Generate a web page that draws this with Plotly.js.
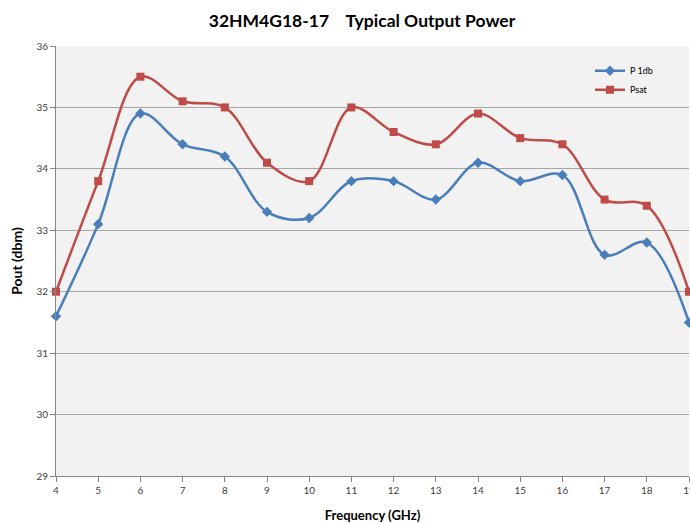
<!DOCTYPE html>
<html>
<head>
<meta charset="utf-8">
<script src="https://cdn.plot.ly/plotly-3.0.1.min.js"></script>
<style>
html,body{margin:0;padding:0;overflow:hidden;background:#fff;}
#chart{width:720px;height:523px;}
</style>
</head>
<body>
<div id="chart"></div>
<script>
var freq = [4,5,6,7,8,9,10,11,12,13,14,15,16,17,18,19];
var p1db = [31.6,33.1,34.9,34.4,34.2,33.3,33.2,33.8,33.8,33.5,34.1,33.8,33.9,32.6,32.8,31.5];
var psat = [32.0,33.8,35.5,35.1,35.0,34.1,33.8,35.0,34.6,34.4,34.9,34.5,34.4,33.5,33.4,32.0];
var xTicks = [4,5,6,7,8,9,10,11,12,13,14,15,16,17,18,19];
var yTicks = [29,30,31,32,33,34,35,36];

var font = "Lato, 'Open Sans', sans-serif";
var traces = [
  {x: freq, y: p1db, name: 'P 1db', type: 'scatter', mode: 'lines+markers',
   line: {color: '#4a7ebb', width: 2.5, shape: 'spline', smoothing: 1},
   marker: {symbol: 'diamond', size: 8, color: '#4a7ebb'}, cliponaxis: false},
  {x: freq, y: psat, name: 'Psat', type: 'scatter', mode: 'lines+markers',
   line: {color: '#be4b48', width: 2.5, shape: 'spline', smoothing: 1},
   marker: {symbol: 'square', size: 8, color: '#be4b48'}, cliponaxis: false}
];
var layout = {
  width: 720, height: 523,
  margin: {l: 56, r: 31, t: 46, b: 47},
  paper_bgcolor: '#ffffff', plot_bgcolor: '#f2f2f2',
  font: {family: font, size: 10, color: '#404040'},
  title: {text: '<b>32HM4G18-17    Typical Output Power</b>', font: {family: font, size: 17.5, color: '#000'},
          x: 0.4834, xanchor: 'center', y: 0.96, yanchor: 'middle', xref: 'paper'},
  showlegend: true,
  legend: {x: 0.8436, y: 0.976, xanchor: 'left', yanchor: 'top', bgcolor: 'rgba(0,0,0,0)',
           font: {family: font, size: 9, color: '#000'}, itemwidth: 30, tracegroupgap: 4},
  xaxis: {range: [4, 19], tickvals: xTicks, ticktext: xTicks.map(String), showgrid: false,
          zeroline: false, showline: true, linecolor: '#868686', linewidth: 1,
          ticks: 'outside', ticklen: 5, tickcolor: '#868686', tickfont: {size: 10, color: '#404040'},
          title: {text: '<b>Frequency (GHz)</b>', font: {family: font, size: 13, color: '#000'}, standoff: 19}},
  yaxis: {range: [29, 36], tickvals: yTicks, ticktext: yTicks.map(String), showgrid: true,
          gridcolor: '#a6a6a6', gridwidth: 1, zeroline: false, showline: true, linecolor: '#868686',
          linewidth: 1, ticks: 'outside', ticklen: 5, tickcolor: '#868686', tickfont: {size: 10, color: '#404040'},
          title: {text: '<b>Pout (dbm)</b>', font: {family: font, size: 14, color: '#000'}, standoff: 10}}
};
Plotly.newPlot('chart', traces, layout, {displayModeBar: false, staticPlot: true});
</script>
</body>
</html>
